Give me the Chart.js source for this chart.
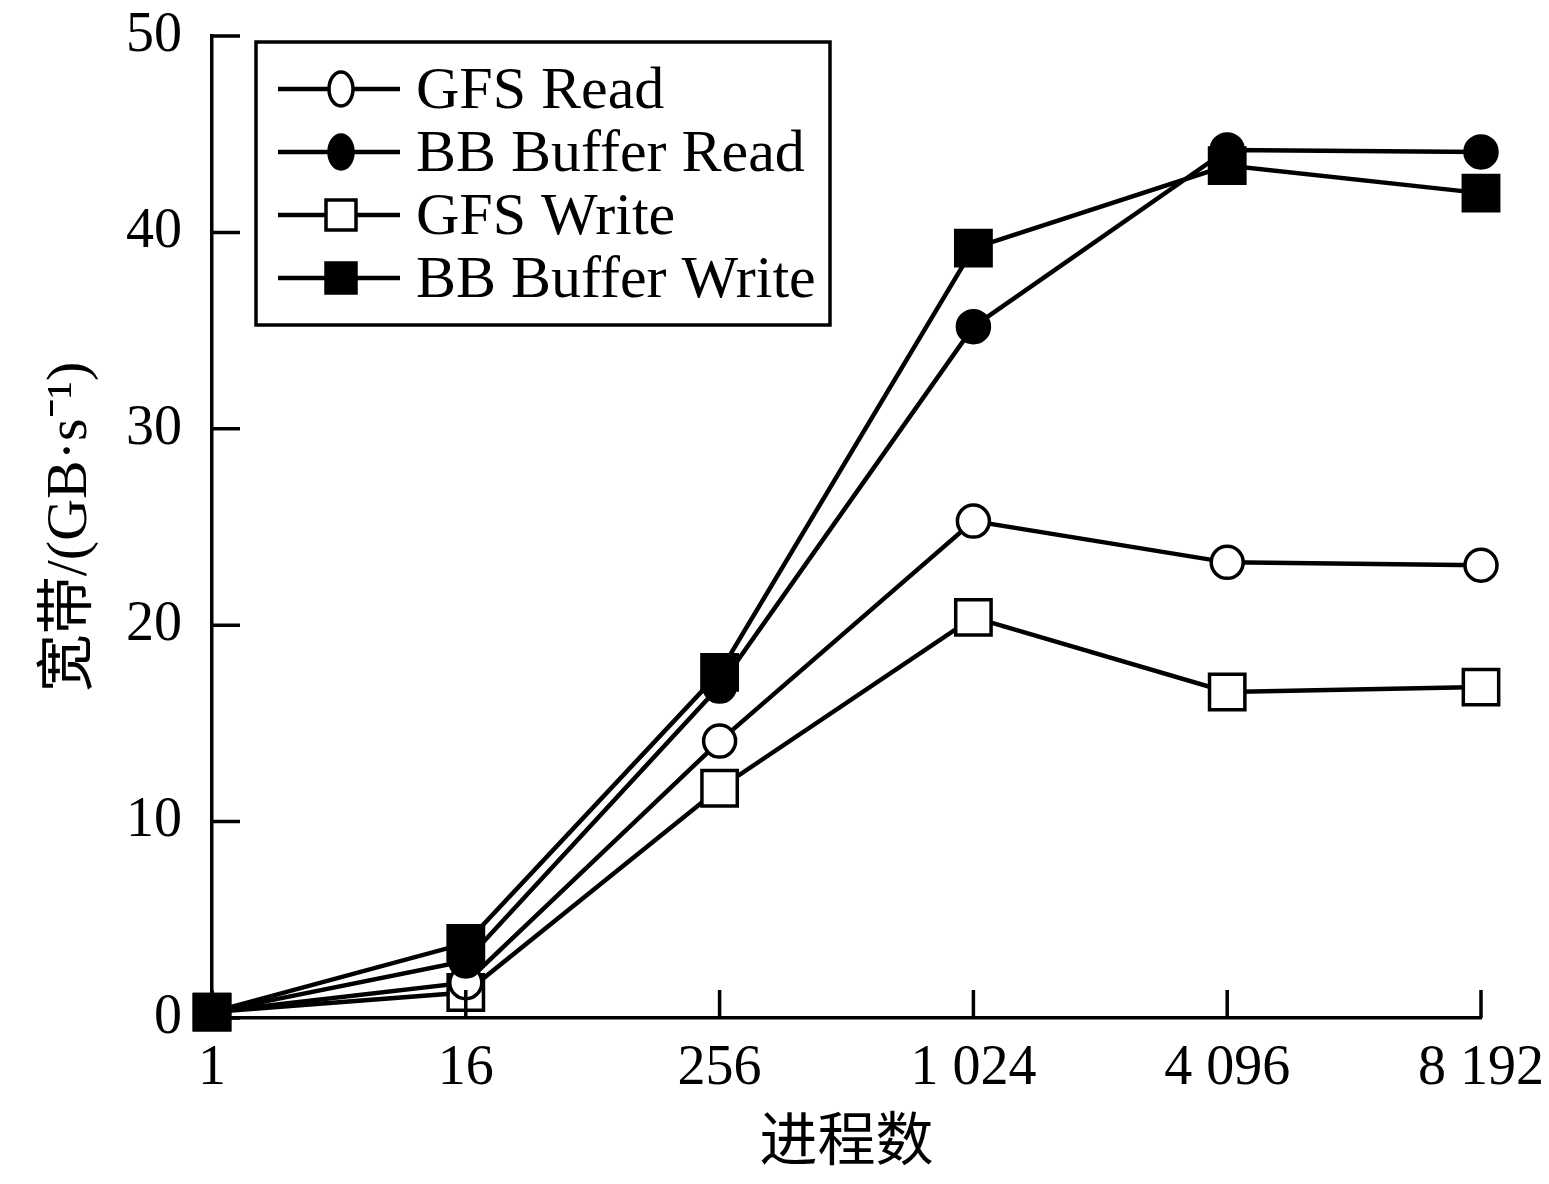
<!DOCTYPE html>
<html>
<head>
<meta charset="utf-8">
<script src="https://cdn.jsdelivr.net/npm/chart.js@4.4.1/dist/chart.umd.min.js"></script>
<style>
  html, body { margin: 0; padding: 0; background: #fff; }
  #wrap { width: 1549px; height: 1184px; }
</style>
</head>
<body>
<div id="wrap"><canvas id="chart"></canvas></div>
<script>
// --- DATA ---
const processes = ['1', '16', '256', '1 024', '4 096', '8 192'];
const gfsRead = [0.3, 1.8, 14.1, 25.3, 23.2, 23.05];
const bbRead = [0.3, 2.9, 16.9, 35.2, 44.2, 44.1];
const gfsWrite = [0.3, 1.3, 11.7, 20.4, 16.6, 16.85];
const bbWrite = [0.3, 3.8, 17.6, 39.2, 43.4, 42.0];
const yTicks = [0, 10, 20, 30, 40, 50];

const serif = '"Liberation Serif", "Times New Roman", "Noto Sans CJK SC", serif';

function series(label, values, style, fill, order) {
    return {
        label: label,
        data: values,
        order: order,
        borderColor: '#000',
        borderWidth: 4.5,
        pointStyle: style,
        pointRadius: style === 'rect' ? 25 : 16,
        pointBorderWidth: 3.5,
        pointBackgroundColor: fill,
        pointBorderColor: '#000',
        tension: 0,
        clip: false
    };
}

// ticks pointing into the plot area
const innerTicks = {
    id: 'innerTicks',
    afterDraw(chart) {
        const ctx = chart.ctx;
        const x = chart.scales.x, y = chart.scales.y;
        ctx.save();
        ctx.strokeStyle = '#000';
        ctx.lineWidth = 3.5;
        ctx.beginPath();
        y.ticks.forEach((t, i) => {
            const py = y.getPixelForTick(i);
            ctx.moveTo(chart.chartArea.left, py);
            ctx.lineTo(chart.chartArea.left + 28, py);
        });
        x.ticks.forEach((t, i) => {
            const px = x.getPixelForTick(i);
            ctx.moveTo(px, chart.chartArea.bottom);
            ctx.lineTo(px, chart.chartArea.bottom - 28);
        });
        ctx.stroke();
        ctx.restore();
    }
};

// boxed legend with line through marker
const boxLegend = {
    id: 'boxLegend',
    afterDraw(chart) {
        const ctx = chart.ctx;
        ctx.save();
        ctx.strokeStyle = '#000';
        ctx.lineWidth = 3.5;
        ctx.strokeRect(256, 42, 574, 283);
        ctx.font = '60px ' + serif;
        ctx.textBaseline = 'middle';
        chart.data.datasets.forEach((ds, i) => {
            const cy = 89 + i * 63;
            ctx.lineWidth = 4.5;
            ctx.beginPath();
            ctx.moveTo(278, cy);
            ctx.lineTo(400, cy);
            ctx.stroke();
            ctx.lineWidth = 3.5;
            ctx.fillStyle = ds.pointBackgroundColor;
            ctx.beginPath();
            if (ds.pointStyle === 'rect') {
                ctx.rect(326, cy - 15, 30, 30);
            } else {
                ctx.ellipse(341, cy, 12, 17, 0, 0, Math.PI * 2);
            }
            ctx.fill();
            ctx.stroke();
            ctx.fillStyle = '#000';
            ctx.fillText(ds.label, 416, cy + 3);
        });
        ctx.restore();
    }
};

new Chart(document.getElementById('chart'), {
    type: 'line',
    data: {
        labels: processes,
        datasets: [
            series('GFS Read', gfsRead, 'circle', '#fff', 2),
            series('BB Buffer Read', bbRead, 'circle', '#000', 1),
            series('GFS Write', gfsWrite, 'rect', '#fff', 3),
            series('BB Buffer Write', bbWrite, 'rect', '#000', 0)
        ]
    },
    options: {
        responsive: true,
        maintainAspectRatio: false,
        animation: false,
        layout: { padding: { top: 36, right: 68, left: 0, bottom: 0 } },
        plugins: {
            legend: { display: false },
            tooltip: { enabled: false }
        },
        scales: {
            x: {
                type: 'category',
                offset: false,
                grid: { drawOnChartArea: false, drawTicks: false },
                border: { color: '#000', width: 3.5 },
                ticks: {
                    color: '#000',
                    padding: 18,
                    maxRotation: 0,
                    autoSkip: false,
                    font: { family: serif, size: 56 }
                },
                title: {
                    display: true,
                    text: '进程数',
                    color: '#000',
                    font: { family: serif, size: 58 },
                    padding: { top: 0, bottom: 4 }
                },
                afterFit: s => {
                    s.height = 166;
                    s.paddingLeft = 0;
                    s.paddingRight = 0;
                }
            },
            y: {
                min: 0,
                max: 50,
                afterBuildTicks: s => { s.ticks = yTicks.map(v => ({ value: v })); },
                grid: { drawOnChartArea: false, drawTicks: false },
                border: { color: '#000', width: 3.5 },
                ticks: {
                    color: '#000',
                    padding: 30,
                    font: { family: serif, size: 56 }
                },
                title: {
                    display: true,
                    text: '宽带/(GB·s⁻¹)',
                    color: '#000',
                    font: { family: serif, size: 58 },
                    padding: { top: 36, bottom: 0 }
                },
                afterFit: s => {
                    s.width = 212;
                    s.paddingTop = 0;
                    s.paddingBottom = 0;
                }
            }
        }
    },
    plugins: [innerTicks, boxLegend]
});
</script>
</body>
</html>
